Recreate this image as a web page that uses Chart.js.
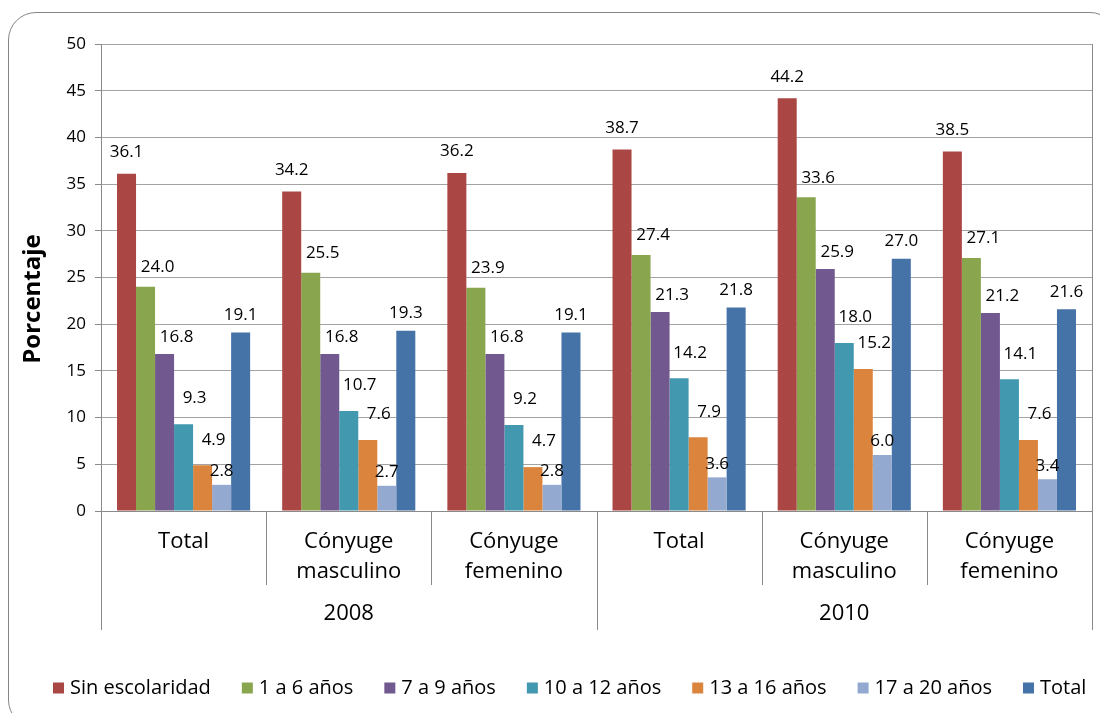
<!DOCTYPE html>
<html>
<head>
<meta charset="utf-8">
<script src="https://cdn.jsdelivr.net/npm/chart.js@4.4.1/dist/chart.umd.min.js"></script>
<style>
body{margin:0;background:#fff;overflow:hidden;}
#wrap{position:relative;width:1100px;height:713px;}
#frame{position:absolute;left:8px;top:12px;width:1110px;height:716px;border:1.5px solid #858585;border-radius:28px;box-sizing:border-box;}
canvas{position:absolute;left:0;top:0;}
</style>
</head>
<body>
<div id="wrap">
<div id="frame"></div>
<canvas id="chart" width="1100" height="713"></canvas>
</div>
<script>
// categories (two levels)
const categories = ["Total", ["Cónyuge","masculino"], ["Cónyuge","femenino"], "Total", ["Cónyuge","masculino"], ["Cónyuge","femenino"]];
const years = ["2008", "2010"];

// series
const seriesNames = ["Sin escolaridad", "1 a 6 años", "7 a 9 años", "10 a 12 años", "13 a 16 años", "17 a 20 años", "Total"];
const sinEscolaridad = [36.1, 34.2, 36.2, 38.7, 44.2, 38.5];
const anios1a6 = [24.0, 25.5, 23.9, 27.4, 33.6, 27.1];
const anios7a9 = [16.8, 16.8, 16.8, 21.3, 25.9, 21.2];
const anios10a12 = [9.3, 10.7, 9.2, 14.2, 18.0, 14.1];
const anios13a16 = [4.9, 7.6, 4.7, 7.9, 15.2, 7.6];
const anios17a20 = [2.8, 2.7, 2.8, 3.6, 6.0, 3.4];
const total = [19.1, 19.3, 19.1, 21.8, 27.0, 21.6];

// y axis
const yMin = 0, yMax = 50, yStep = 5;

const colors = ["#AA4643", "#89A54E", "#71588F", "#4198AF", "#DB843D", "#93A9CF", "#4572A7"];
// value label nudges per series (px)
const labelDx = [0, 12, 12, 11, 11, 0, 0];
const labelGap = [16, 14, 11, 20, 20, 8, 12];

const FONT = "'Open Sans', 'Noto Sans', sans-serif";
const allSeries = [sinEscolaridad, anios1a6, anios7a9, anios10a12, anios13a16, anios17a20, total];

// value labels above bars
const valueLabels = {
  id: "valueLabels",
  afterDatasetsDraw(chart) {
    const ctx = chart.ctx;
    ctx.save();
    ctx.font = "17px " + FONT;
    ctx.fillStyle = "#000";
    ctx.textAlign = "center";
    ctx.textBaseline = "bottom";
    chart.data.datasets.forEach((ds, i) => {
      chart.getDatasetMeta(i).data.forEach((bar, j) => {
        ctx.fillText(ds.data[j].toFixed(1), bar.x + labelDx[i], bar.y - labelGap[i] + 3);
      });
    });
    ctx.restore();
  }
};

// plot border, category separators, year row, y title, legend
const axisExtras = {
  id: "axisExtras",
  afterDraw(chart) {
    const ctx = chart.ctx;
    const area = chart.chartArea;
    const x = chart.scales.x;
    const step = x.getPixelForValue(1) - x.getPixelForValue(0);
    ctx.save();
    ctx.strokeStyle = "#8a8a8a";
    ctx.lineWidth = 1;
    ctx.beginPath();
    ctx.moveTo(area.right + 0.5, area.top);
    ctx.lineTo(area.right + 0.5, area.bottom);
    for (let k = 0; k <= categories.length; k++) {
      const px = Math.round(x.getPixelForValue(0) - step / 2 + k * step) + 0.5;
      const long = k % 3 === 0;
      ctx.moveTo(px, area.bottom);
      ctx.lineTo(px, area.bottom + (long ? 119 : 74));
    }
    ctx.stroke();

    ctx.fillStyle = "#000";
    ctx.font = "22px " + FONT;
    ctx.textAlign = "center";
    ctx.textBaseline = "middle";
    years.forEach((yr, g) => {
      const cx = x.getPixelForValue(g * 3 + 1);
      ctx.fillText(yr, cx, area.bottom + 103);
    });

    // legend
    ctx.font = "20px " + FONT;
    ctx.textAlign = "left";
    let lx = 53;
    const ly = 688;
    seriesNames.forEach((name, i) => {
      ctx.fillStyle = colors[i];
      ctx.fillRect(lx, ly - 5.5, 11, 11);
      ctx.fillStyle = "#000";
      ctx.fillText(name, lx + 17, ly);
      lx += 17 + ctx.measureText(name).width + 31;
    });

    ctx.font = "bold 24px " + FONT;
    ctx.textAlign = "center";
    ctx.translate(33, 299);
    ctx.rotate(-Math.PI / 2);
    ctx.fillText("Porcentaje", 0, 0);
    ctx.restore();
  }
};

new Chart(
document.getElementById("chart"),
{
type: "bar",
data: {
  labels: categories,
  datasets: seriesNames.map((name, i) => ({
    label: name,
    data: allSeries[i],
    backgroundColor: colors[i],
    borderWidth: 0,
    categoryPercentage: 0.806,
    barPercentage: 1
  }))
},
options: {
  responsive: false,
  animation: false,
  layout: {padding: {top: 44, right: 8, bottom: 0, left: 42}},
  plugins: {
    tooltip: {enabled: false},
    legend: {display: false}
  },
  scales: {
    x: {
      grid: {display: false},
      border: {display: true, color: "#8a8a8a"},
      ticks: {
        color: "#000",
        padding: 8,
        maxRotation: 0,
        autoSkip: false,
        font: {family: FONT, size: 22, lineHeight: 1.36}
      },
      afterFit(scale) { scale.height = 202; }
    },
    y: {
      min: yMin,
      max: yMax,
      ticks: {
        stepSize: yStep,
        color: "#000",
        padding: 9,
        font: {family: FONT, size: 17}
      },
      grid: {color: "#a3a3a3", tickLength: 6, tickColor: "#8a8a8a"},
      border: {display: true, color: "#8a8a8a"},
      afterFit(scale) { scale.width = 59; }
    }
  }
},
plugins: [valueLabels, axisExtras]
}
);
</script>
</body>
</html>
